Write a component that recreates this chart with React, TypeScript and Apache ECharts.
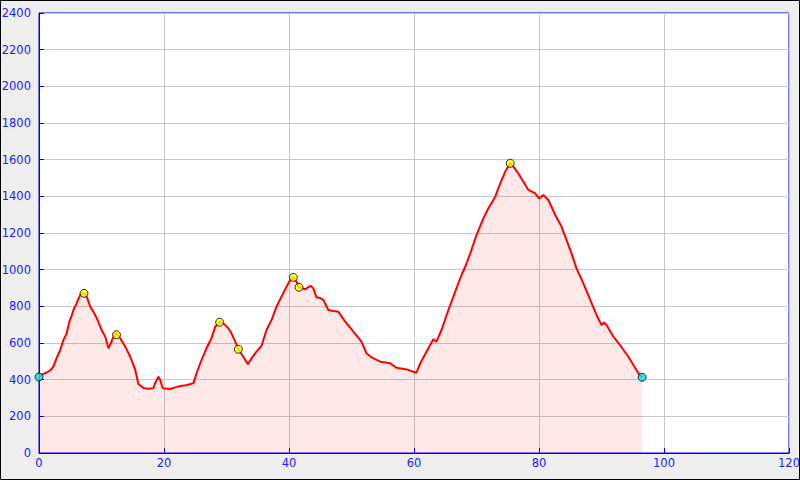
import React, { useEffect, useRef } from "react";
import * as echarts from "echarts";

const distanceKm = [
  0, 0.2, 0.6, 1.0, 1.4, 1.8, 2.3, 2.8, 3.1, 3.4, 3.9, 4.4, 4.85, 5.2, 5.5, 6.0, 6.6, 7.0, 7.2,
  7.6, 8.2, 8.7, 9.1, 9.5, 10.0, 10.6, 11.1, 11.5, 11.8, 12.3, 12.6, 13.0, 13.8, 14.6, 15.0, 15.4,
  15.9, 16.7, 17.5, 18.3, 18.6, 19.1, 19.4, 19.8, 21.0, 21.8, 22.6, 23.5, 24.7, 25.2, 26.0, 26.8,
  27.6, 28.2, 28.9, 29.5, 30.3, 30.8, 31.4, 31.9, 32.7, 33.4, 34.0, 34.8, 35.6, 36.4, 37.2, 38.0,
  38.8, 39.6, 40.2, 40.7, 41.2, 41.6, 42.1, 42.6, 43.1, 43.5, 43.9, 44.4, 45.0, 45.5, 46.3, 47.1,
  47.9, 49.0, 50.3, 51.6, 52.4, 53.2, 54.6, 56.2, 57.2, 58.8, 60.4, 61.0, 62.3, 63.1, 63.6, 64.4,
  65.5, 66.6, 67.6, 68.2, 69.0, 70.0, 71.1, 71.9, 73.0, 73.8, 74.6, 75.4, 75.9, 76.7, 77.5, 78.3,
  79.4, 80.0, 80.7, 81.5, 82.6, 83.6, 84.4, 85.2, 86.0, 87.1, 88.2, 89.2, 90.0, 90.4, 90.8, 91.9,
  92.96, 94.3, 95.9, 96.5,
];

const elevationM = [
  415, 420, 430, 435, 442, 450, 471, 516, 540, 562, 616, 649, 716, 745, 780, 816, 862, 872, 871,
  856, 798, 771, 745, 716, 671, 635, 571, 600, 625, 656, 645, 626, 580, 525, 490, 453,
  376, 355, 350, 353, 382, 416, 398, 353, 349, 358, 365, 370, 380, 435, 507, 571,
  626, 689, 713, 707, 680, 653, 607, 566, 525, 484, 516, 553, 584, 671, 725, 798,
  853, 907, 944, 958, 935, 904, 898, 893, 905, 911, 898, 849, 845, 835, 780, 775,
  771, 716, 662, 607, 544, 522, 498, 489, 465, 456, 438, 489, 571, 620, 607, 671,
  780, 880, 971, 1016, 1089, 1189, 1280, 1335, 1398, 1471, 1535, 1580, 1562, 1525, 1480, 1435,
  1416, 1389, 1407, 1380, 1298, 1235, 1162, 1089, 1007, 925, 835, 753, 698, 712, 698, 635,
  589, 525, 435, 413,
];

const waypointKm = [7.2, 12.4, 28.9, 31.9, 40.7, 41.6, 75.4];
const waypointM = [871, 645, 713, 566, 958, 904, 1580];
const endpointKm = [0, 96.5];
const endpointM = [415, 413];

const xTicks = { min: 0, max: 120, interval: 20 };
const yTicks = { min: 0, max: 2400, interval: 200 };

export default function App() {
  const ref = useRef<HTMLDivElement>(null);
  useEffect(() => {
    document.body.style.margin = "0";
    const chart = echarts.init(ref.current!, null, { renderer: "svg" });
    const labelColor = "#2020ff";
    chart.setOption({
      animation: false,
      backgroundColor: "#eeeeee",
      graphic: [
        {
          type: "rect",
          shape: { x: 0.5, y: 0.5, width: 799, height: 479 },
          style: { fill: "none", stroke: "#000", lineWidth: 1 },
          z: 100,
        },
      ],
      grid: {
        left: 39,
        top: 13,
        right: 11,
        bottom: 27,
        outerBoundsMode: "none",
        containLabel: false,
        show: true,
        backgroundColor: "#ffffff",
        borderColor: "#0000ff",
        borderWidth: 1,
      },
      xAxis: {
        type: "value",
        min: xTicks.min,
        max: xTicks.max,
        interval: xTicks.interval,
        axisLine: { show: true, lineStyle: { color: "#0000ff", width: 1 } },
        axisTick: { show: true, inside: true, length: 5, lineStyle: { color: "#0000ff" } },
        axisLabel: {
          color: labelColor,
          fontFamily: "DejaVu Sans",
          fontSize: 11.5,
          margin: 4,
          formatter: (v: number) => String(v),
        },
        splitLine: { show: true, lineStyle: { color: "#c8c8c8", width: 1 } },
      },
      yAxis: {
        type: "value",
        min: yTicks.min,
        max: yTicks.max,
        interval: yTicks.interval,
        axisLine: { show: true, lineStyle: { color: "#0000ff", width: 1 } },
        axisTick: { show: true, inside: true, length: 5, lineStyle: { color: "#0000ff" } },
        axisLabel: {
          color: labelColor,
          fontFamily: "DejaVu Sans",
          fontSize: 11.5,
          margin: 8,
          formatter: (v: number) => String(v),
        },
        splitLine: { show: true, lineStyle: { color: "#c8c8c8", width: 1 } },
      },
      series: [
        {
          type: "line",
          data: distanceKm.map((d, i) => [d, elevationM[i]]),
          showSymbol: false,
          symbol: "none",
          lineStyle: { color: "#ff0000", width: 2 },
          areaStyle: { color: "rgba(255,0,0,0.13)" },
          z: 2,
        },
        {
          type: "scatter",
          data: waypointKm.map((d, i) => [d, waypointM[i]]),
          symbol: "circle",
          symbolSize: 8,
          itemStyle: { color: "#ffff00", borderColor: "#000", borderWidth: 1 },
          z: 3,
        },
        {
          type: "scatter",
          data: endpointKm.map((d, i) => [d, endpointM[i]]),
          symbol: "circle",
          symbolSize: 8,
          itemStyle: { color: "#00e5ee", borderColor: "#000", borderWidth: 1 },
          z: 3,
        },
      ],
    });
    return () => chart.dispose();
  }, []);
  return <div ref={ref} style={{ width: 800, height: 480 }} />;
}
